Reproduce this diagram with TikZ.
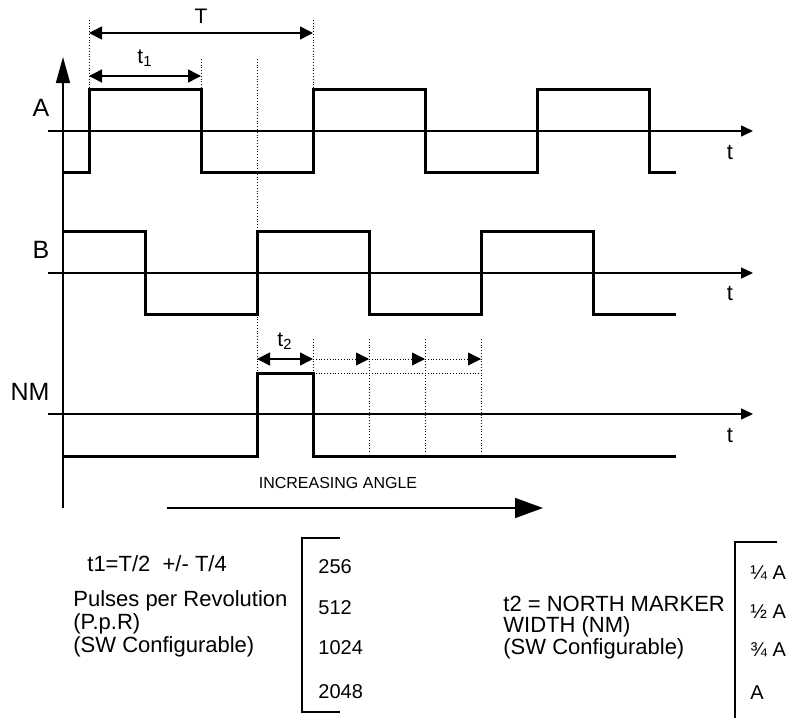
\documentclass[tikz,border=0pt]{standalone}
\usepackage{fontspec}
\setmainfont{Liberation Sans}
\usetikzlibrary{arrows.meta}

\tikzset{
  signal/.style={line width=1.5pt},
  axis/.style={line width=0.75pt, -{Triangle[length=6pt,width=5.5pt]}},
  guide/.style={densely dotted, line width=0.4pt},
  dimline/.style={line width=0.75pt, {Triangle[length=6.5pt,width=6.5pt]}-{Triangle[length=6.5pt,width=6.5pt]}},
  stepline/.style={densely dotted, line width=0.4pt, -{Triangle[length=6.5pt,width=6.5pt]}},
  chan/.style={font=\fontsize{12.5}{14}\selectfont},
  tlab/.style={font=\fontsize{11}{13}\selectfont},
  dimlab/.style={font=\fontsize{10.5}{12}\selectfont},
  note/.style={font=\fontsize{11}{13}\selectfont, anchor=west, inner sep=0pt},
  val/.style={font=\fontsize{10}{12}\selectfont, anchor=west, inner sep=0pt},
}

\begin{document}
\begin{tikzpicture}[x=0.5pt,y=-0.5pt]
  \useasboundingbox (0,0) rectangle (793,718);

  % Time axes
  \draw[line width=0.75pt, -{Triangle[length=13pt,width=7pt]}] (63,508) -- (63,57);
  \draw[axis] (48,131) -- (753,131);
  \draw[axis] (48,273) -- (753,273);
  \draw[axis] (48,414) -- (753,414);
  \node[tlab] (ta) at (730,152) {t};
  \node[tlab] (tb) at (730,293) {t};
  \node[tlab] (tnm) at (730,435) {t};

  % Channel labels
  \node[chan] (laba) at (41,108) {A};
  \node[chan] (labb) at (41,250) {B};
  \node[chan] (labnm) at (30,392) {NM};

  % Signal A
  \draw[signal] (63,172) -- (89,172) -- (89,89.5) -- (201,89.5) -- (201,172) -- (313,172)
    -- (313,89.5) -- (425,89.5) -- (425,172) -- (537,172) -- (537,89.5) -- (649,89.5)
    -- (649,172) -- (676,172);
  % Signal B
  \draw[signal] (63,231.5) -- (145,231.5) -- (145,314) -- (257,314) -- (257,231.5) -- (369,231.5)
    -- (369,314) -- (481,314) -- (481,231.5) -- (593,231.5) -- (593,314) -- (676,314);
  % North marker
  \draw[signal] (63,456) -- (257,456) -- (257,373) -- (313,373) -- (313,456) -- (676,456);

  % Guide lines
  \draw[guide] (89,20) -- (89,89.5);
  \draw[guide] (313,20) -- (313,89.5);
  \draw[guide] (201,59) -- (201,89.5);
  \draw[guide] (257,59) -- (257,373);
  \draw[guide] (313,339) -- (313,373);
  \foreach \x in {369,425,481}
    \draw[guide] (\x,339) -- (\x,453);
  \draw[guide] (313,373) -- (481,373);

  % Period T and t1
  \coordinate (ts) at (89,33);
  \coordinate (te) at (313,33);
  \draw[dimline] (ts) -- (te) node[midway, above=1pt, dimlab] (labt) {T};
  \coordinate (t1s) at (89,76);
  \coordinate (t1e) at (201,76);
  \draw[dimline] (t1s) -- (t1e) node[midway, above=1pt, dimlab] (labt1) {t\textsubscript{1}};

  % Marker width t2 and steps
  \coordinate (m0) at (257,359);
  \coordinate (m1) at (313,359);
  \coordinate (m2) at (369,359);
  \coordinate (m3) at (425,359);
  \coordinate (m4) at (481,359);
  \draw[dimline] (m0) -- (m1) node[midway, above=1pt, dimlab] (labt2) {t\textsubscript{2}};
  \draw[stepline] (m1) -- (m2);
  \draw[stepline] (m2) -- (m3);
  \draw[stepline] (m3) -- (m4);

  % Increasing angle
  \node[font=\fontsize{8}{10}\selectfont] (angle) at (338,483) {INCREASING ANGLE};
  \coordinate (as) at (167,508);
  \coordinate (ae) at (543,508);
  \draw[line width=0.75pt, -{Triangle[length=14pt,width=10pt]}] (as) -- (ae);

  % Pulses per revolution
  \node[note] (t1def) at (87,564) {t1=T/2\ \ +/- T/4};
  \node[note] (ppr1) at (73,601) {Pulses per Revolution};
  \node[note] (ppr2) at (73,624) {(P.p.R)};
  \node[note] (ppr3) at (73,647) {(SW Configurable)};
  \draw[line width=0.75pt] (340,538) -- (302,538) -- (302,712) -- (340,712);
  \node[val] (p256) at (318,567) {256};
  \node[val] (p512) at (318,608) {512};
  \node[val] (p1024) at (318,648) {1024};
  \node[val] (p2048) at (318,692) {2048};

  % North marker width
  \node[note] (nm1) at (503,604) {t2 = NORTH MARKER};
  \node[note] (nm2) at (503,627) {WIDTH (NM)};
  \node[note] (nm3) at (503,649) {(SW Configurable)};
  \draw[line width=0.75pt] (777,542) -- (735,542) -- (735,718);
  \node[val] (w1) at (750,573) {¼ A};
  \node[val] (w2) at (750,612) {½ A};
  \node[val] (w3) at (750,650) {¾ A};
  \node[val] (w4) at (750,693) {A};
\end{tikzpicture}
\end{document}
